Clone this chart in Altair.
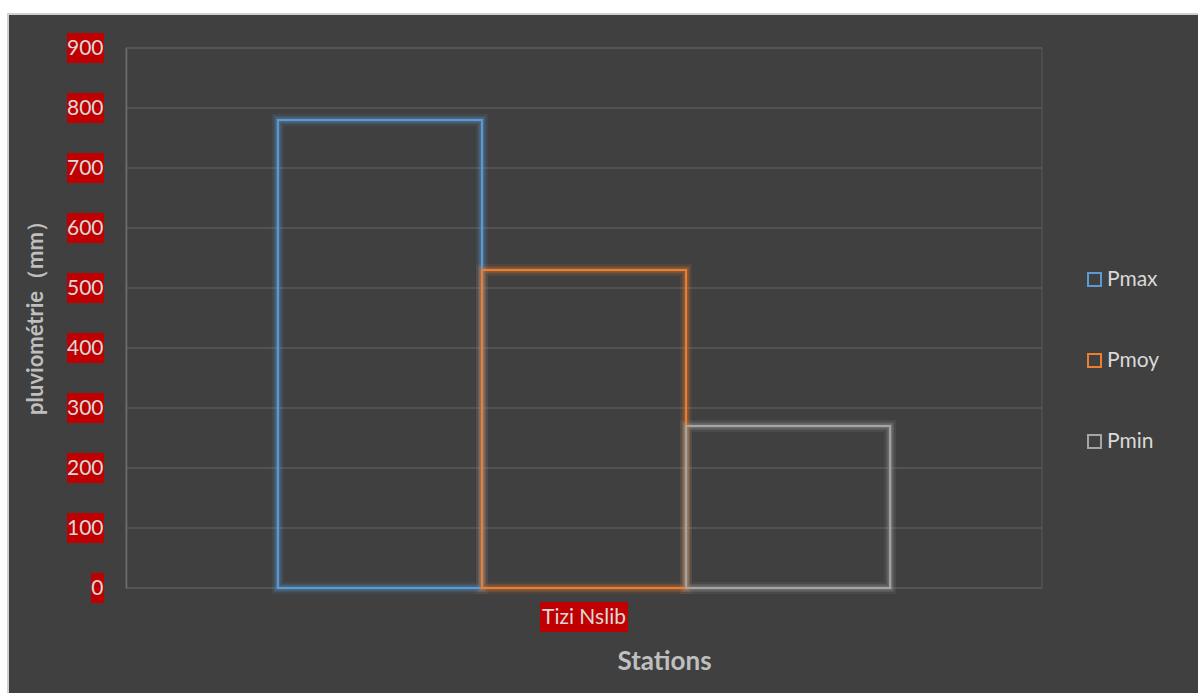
import altair as alt
import pandas as pd

# ---- data -------------------------------------------------------------
stations = ["Tizi Nslib"]
series = ["Pmax", "Pmoy", "Pmin"]
values = [780, 530, 270]
colors = ["#5B9BD5", "#ED7D31", "#A5A5A5"]
y_ticks = [0, 100, 200, 300, 400, 500, 600, 700, 800, 900]

# ---- styling ----------------------------------------------------------
W, H = 916, 540
BG = "#404040"
GRID = "#595959"
TEXT = "#D9D9D9"
TITLE_GRAY = "#BFBFBF"
LABEL_BG = "#C00000"
FONT = "Lato"
UNIT = 15  # half-height (px) of the red label boxes; symbol size = (2*UNIT)^2


def right_box(width_px):
    """Rectangle path anchored at its right edge, for label backgrounds."""
    w = width_px / UNIT
    return f"M{-w:.3f},-1H0V1H{-w:.3f}Z"


def centered_box(width_px):
    w = width_px / UNIT / 2
    return f"M{-w:.3f},-1H{w:.3f}V1H{-w:.3f}Z"


bars = pd.DataFrame({
    "station": [stations[0]] * len(series),
    "series": series,
    "value": values,
    "col": colors,
})
ticks = pd.DataFrame({
    "value": y_ticks,
    "box": [right_box(12 * len(str(t)) + 1) for t in y_ticks],
})
station_boxes = pd.DataFrame({
    "station": stations,
    "box": [centered_box(88) for _ in stations],
})

x_scale = alt.Scale(domain=stations, paddingOuter=0.248, paddingInner=0)
off_scale = alt.Scale(domain=series, paddingInner=0, paddingOuter=0)
y_scale = alt.Scale(domain=[0, 900], nice=False)
col_scale = alt.Scale(domain=series, range=colors)

x_enc = alt.X(
    "station:N", scale=x_scale,
    axis=alt.Axis(
        title="Stations", domain=False, ticks=False, labelAngle=0,
        labelFont=FONT, labelFontSize=21, labelColor=TEXT,
        labelBaseline="middle", labelPadding=29,
        titleFont=FONT, titleFontSize=26, titleFontWeight="bold",
        titleColor=TITLE_GRAY, titleX=538, titleY=73,
        titleBaseline="middle", titleAlign="center", zindex=2,
    ),
)
y_enc = alt.Y(
    "value:Q", scale=y_scale,
    axis=alt.Axis(
        values=y_ticks, grid=False, ticks=False,
        domainColor="#6E6E6E", domainWidth=1.5,
        labelFont=FONT, labelFontSize=21, labelColor=TEXT,
        labelPadding=23, labelBaseline="middle",
        title="pluviométrie（mm）", titleFont=FONT, titleFontSize=22,
        titleFontWeight="bold", titleColor=TITLE_GRAY, titleAngle=270,
        titleX=-91, titleY=264, titleBaseline="middle", titleAlign="center",
        zindex=2,
    ),
)

# ---- layers -----------------------------------------------------------
frame = alt.Chart(alt.Data(values=[{}])).mark_rect(
    fill=BG, stroke="#D0D0D0", strokeWidth=2
).encode(
    x=alt.value(-118), x2=alt.value(W + 200),
    y=alt.value(-34), y2=alt.value(H + 200),
)

plot_border = alt.Chart(alt.Data(values=[{}])).mark_rect(
    fillOpacity=0, stroke=GRID, strokeWidth=1
).encode(
    x=alt.value(0), x2=alt.value(W), y=alt.value(0), y2=alt.value(H)
)

grid = alt.Chart(ticks).mark_rule(color=GRID, strokeWidth=1.5).encode(y=y_enc)

y_label_boxes = alt.Chart(ticks).mark_point(
    filled=True, fill=LABEL_BG, opacity=1, strokeWidth=0, size=(2 * UNIT) ** 2
).encode(
    y=y_enc,
    x=alt.value(-22),
    shape=alt.Shape("box:N", scale=None),
)

x_label_box = alt.Chart(station_boxes).mark_point(
    filled=True, fill=LABEL_BG, opacity=1, strokeWidth=0, size=(2 * UNIT) ** 2
).encode(
    x=x_enc,
    y=alt.value(H + 29),
    shape=alt.Shape("box:N", scale=None),
)


def glow(width, opacity):
    # soft halo around each bar outline
    return alt.Chart(bars).mark_bar(
        filled=False, strokeWidth=width, strokeOpacity=opacity
    ).encode(
        x=x_enc,
        xOffset=alt.XOffset("series:N", scale=off_scale),
        y=y_enc,
        stroke=alt.Stroke("col:N", scale=None),
    )


main_bars = alt.Chart(bars).mark_bar(filled=False, strokeWidth=2).encode(
    x=x_enc,
    xOffset=alt.XOffset("series:N", scale=off_scale),
    y=y_enc,
    color=alt.Color(
        "series:N", scale=col_scale,
        legend=alt.Legend(
            title=None, orient="none", legendX=958, legendY=221,
            direction="vertical", symbolType="square", symbolSize=169,
            symbolStrokeWidth=2, labelFont=FONT, labelFontSize=21,
            labelColor=TEXT, rowPadding=59, labelOffset=2, padding=0,
            zindex=2,
        ),
    ),
)

chart = alt.layer(
    frame, plot_border, grid, y_label_boxes, x_label_box,
    glow(12, 0.1), glow(8, 0.15), glow(5, 0.25), main_bars,
).properties(
    width=W, height=H,
    autosize=alt.AutoSizeParams(type="none"),
    padding={"left": 126, "top": 48, "right": 156, "bottom": 105},
    background="white",
).configure_view(stroke=None)

chart.save("out.html", embed_options={"renderer": "svg", "actions": False})
